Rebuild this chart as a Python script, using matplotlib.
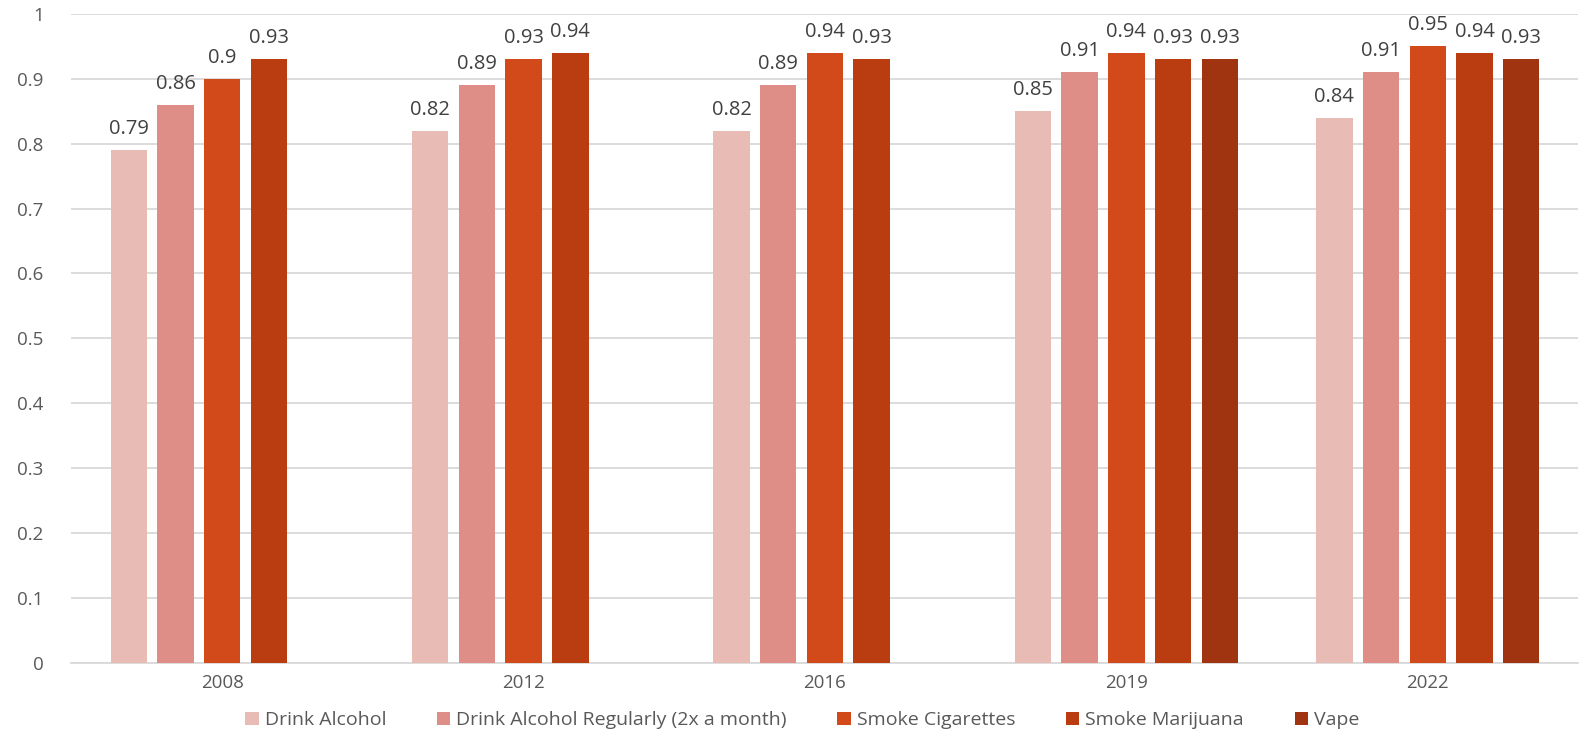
import matplotlib.pyplot as plt
import numpy as np

years = ['2008', '2012', '2016', '2019', '2022']
series = ['Drink Alcohol', 'Drink Alcohol Regularly (2x a month)',
          'Smoke Cigarettes', 'Smoke Marijuana', 'Vape']
drink = [0.79, 0.82, 0.82, 0.85, 0.84]
drink_reg = [0.86, 0.89, 0.89, 0.91, 0.91]
cigarettes = [0.90, 0.93, 0.94, 0.94, 0.95]
marijuana = [0.93, 0.94, 0.93, 0.93, 0.94]
vape = [np.nan, np.nan, np.nan, 0.93, 0.93]

colors = ['#E8BBB4', '#DE8E86', '#D24A19', '#BA3D12', '#A03310']
txt = '#595959'

plt.rcParams['font.family'] = ['Open Sans', 'DejaVu Sans']

fig = plt.figure(figsize=(15.88, 7.34), dpi=100)
ax = fig.add_axes([0.045, 0.097, 0.949, 0.884])

x = np.arange(len(years))
slot = 0.155
width = slot * 0.78
data = [drink, drink_reg, cigarettes, marijuana, vape]
for i, (name, vals) in enumerate(zip(series, data)):
    pos = x + (i - 2) * slot
    bars = ax.bar(pos, vals, width, color=colors[i], label=name, zorder=3)
    for b, v in zip(bars, vals):
        if np.isnan(v):
            continue
        ax.text(b.get_x() + b.get_width() / 2, v + 0.017, '%g' % v,
                ha='center', va='bottom', fontsize=14.5, color='#404040')

ax.set_xlim(-0.5, 4.5)
ax.set_ylim(0, 1)
ax.set_yticks(np.arange(0, 1.01, 0.1))
ax.set_yticklabels(['0', '0.1', '0.2', '0.3', '0.4', '0.5', '0.6', '0.7', '0.8', '0.9', '1'])
ax.set_xticks(x)
ax.set_xticklabels(years)
ax.tick_params(axis='both', length=0, labelsize=13.5, labelcolor=txt)
ax.tick_params(axis='y', pad=20)
ax.tick_params(axis='x', pad=8)
ax.grid(axis='y', color='#D9D9D9', linewidth=1.3, zorder=0)
for s in ['top', 'right', 'left']:
    ax.spines[s].set_visible(False)
ax.spines['bottom'].set_color('#D9D9D9')
ax.spines['bottom'].set_linewidth(1.3)

ax.legend(loc='upper center', bbox_to_anchor=(0.485, -0.048), ncol=5, frameon=False,
          fontsize=14, labelcolor=txt, handlelength=0.7, handleheight=0.7,
          handletextpad=0.3, columnspacing=2.6)

fig.savefig('out.png', dpi=100)
